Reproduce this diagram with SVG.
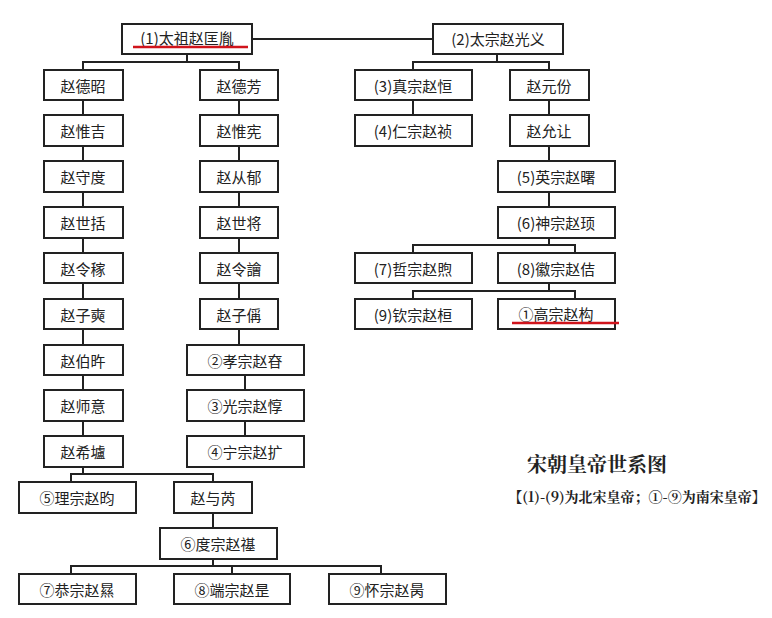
<svg xmlns="http://www.w3.org/2000/svg" width="772" height="618" viewBox="0 0 772 618">
<style>
.n rect{fill:#fff;stroke:#222;stroke-width:2}
.n text{font-family:"Noto Sans CJK SC","Noto Sans",sans-serif;font-size:15px;fill:#222;text-anchor:middle;dominant-baseline:central}
#conn path{fill:none;stroke:#222;stroke-width:2}
.red{stroke:#d0141c;stroke-width:2.5}
.t{font-family:"Noto Serif CJK SC","Noto Sans CJK SC",serif;fill:#222}
</style>
<rect width="772" height="618" fill="#fff"/>
<g id="conn">
<path d="M252 39H433"/>
<path d="M187 54V62M83 70V62H239V70"/>
<path d="M83 100V436M239 100V345M245 375V436"/>
<path d="M83 467V474M71 482V474H213V482"/>
<path d="M213 513V528M213 559V566M71 574V566H381V574M232 566V574"/>
<path d="M497 54V62M413 70V62H549V70M413 100V115M549 100V161M549 192V207"/>
<path d="M549 238V245M413 253V245H575V253M549 283V291M413 299V291H575V299"/>
</g>
<g id="taizu" class="n"><rect x="122" y="24" width="130" height="30"/><text x="187" y="37">(1)太祖赵匡胤</text><line class="red" x1="133" y1="47" x2="248" y2="47"/></g>
<g id="taizong" class="n"><rect x="433" y="24" width="130" height="30"/><text x="498" y="38">(2)太宗赵光义</text></g>
<g id="dezhao" class="n"><rect x="44" y="70" width="79" height="30"/><text x="83" y="85">赵德昭</text></g>
<g id="weiji" class="n"><rect x="44" y="115" width="79" height="31"/><text x="83" y="130">赵惟吉</text></g>
<g id="shoudu" class="n"><rect x="44" y="161" width="79" height="31"/><text x="83" y="176">赵守度</text></g>
<g id="shikuo" class="n"><rect x="44" y="207" width="79" height="31"/><text x="83" y="222">赵世括</text></g>
<g id="lingjia" class="n"><rect x="44" y="253" width="79" height="30"/><text x="83" y="268">赵令稼</text></g>
<g id="zishi" class="n"><rect x="44" y="299" width="79" height="30"/><text x="83" y="314">赵子奭</text></g>
<g id="bowu" class="n"><rect x="44" y="345" width="79" height="30"/><text x="83" y="360">赵伯旿</text></g>
<g id="shiyi" class="n"><rect x="44" y="390" width="79" height="31"/><text x="83" y="405">赵师意</text></g>
<g id="xilu" class="n"><rect x="44" y="436" width="79" height="31"/><text x="83" y="451">赵希壚</text></g>
<g id="defang" class="n"><rect x="200" y="70" width="78" height="30"/><text x="239" y="85">赵德芳</text></g>
<g id="weixian" class="n"><rect x="200" y="115" width="78" height="31"/><text x="239" y="130">赵惟宪</text></g>
<g id="congyu" class="n"><rect x="200" y="161" width="78" height="31"/><text x="239" y="176">赵从郁</text></g>
<g id="shijiang" class="n"><rect x="200" y="207" width="78" height="31"/><text x="239" y="222">赵世将</text></g>
<g id="lingjue" class="n"><rect x="200" y="253" width="78" height="30"/><text x="239" y="268">赵令譮</text></g>
<g id="zicheng" class="n"><rect x="200" y="299" width="78" height="30"/><text x="239" y="314">赵子偁</text></g>
<g id="xiaozong" class="n"><rect x="187" y="345" width="117" height="30"/><text x="245" y="360">②孝宗赵昚</text></g>
<g id="guangzong" class="n"><rect x="187" y="390" width="117" height="31"/><text x="245" y="405">③光宗赵惇</text></g>
<g id="ningzong" class="n"><rect x="187" y="436" width="117" height="31"/><text x="245" y="451">④宁宗赵扩</text></g>
<g id="lizong" class="n"><rect x="19" y="482" width="117" height="31"/><text x="77" y="497">⑤理宗赵昀</text></g>
<g id="yurui" class="n"><rect x="174" y="482" width="78" height="31"/><text x="213" y="497">赵与芮</text></g>
<g id="duzong" class="n"><rect x="160" y="528" width="117" height="31"/><text x="218" y="543">⑥度宗赵禥</text></g>
<g id="gongzong" class="n"><rect x="19" y="574" width="117" height="30"/><text x="77" y="589">⑦恭宗赵㬎</text></g>
<g id="duanzong" class="n"><rect x="174" y="574" width="116" height="30"/><text x="232" y="589">⑧端宗赵昰</text></g>
<g id="huaizong" class="n"><rect x="329" y="574" width="117" height="30"/><text x="387" y="589">⑨怀宗赵昺</text></g>
<g id="zhenzong" class="n"><rect x="355" y="70" width="117" height="30"/><text x="413" y="85">(3)真宗赵恒</text></g>
<g id="renzong" class="n"><rect x="355" y="115" width="117" height="31"/><text x="413" y="130">(4)仁宗赵祯</text></g>
<g id="yuanfen" class="n"><rect x="510" y="70" width="79" height="30"/><text x="549" y="85">赵元份</text></g>
<g id="yunrang" class="n"><rect x="510" y="115" width="79" height="31"/><text x="549" y="130">赵允让</text></g>
<g id="yingzong" class="n"><rect x="498" y="161" width="117" height="31"/><text x="556" y="176">(5)英宗赵曙</text></g>
<g id="shenzong" class="n"><rect x="498" y="207" width="117" height="31"/><text x="556" y="222">(6)神宗赵顼</text></g>
<g id="zhezong" class="n"><rect x="355" y="253" width="117" height="30"/><text x="413" y="268">(7)哲宗赵煦</text></g>
<g id="huizong" class="n"><rect x="498" y="253" width="117" height="30"/><text x="556" y="268">(8)徽宗赵佶</text></g>
<g id="qinzong" class="n"><rect x="355" y="299" width="117" height="30"/><text x="413" y="314">(9)钦宗赵桓</text></g>
<g id="gaozong" class="n"><rect x="498" y="299" width="117" height="30"/><text x="556" y="313">①高宗赵构</text><line class="red" x1="512" y1="323" x2="619" y2="323"/></g>
<text class="t" x="597" y="472" font-size="20" font-weight="bold" text-anchor="middle">宋朝皇帝世系图</text>
<text class="t" x="637" y="502" font-size="14" font-weight="bold" text-anchor="middle">【(1)-(9)为北宋皇帝；①-⑨为南宋皇帝】</text>
</svg>
